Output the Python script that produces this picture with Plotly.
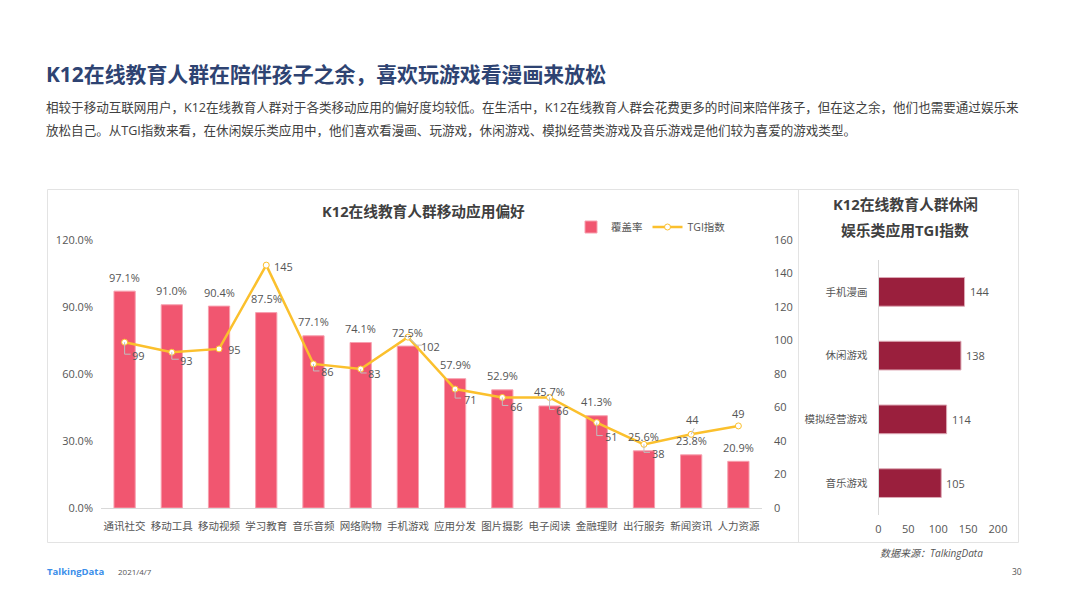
import plotly.graph_objects as go

categories = ["通讯社交","移动工具","移动视频","学习教育","音乐音频","网络购物","手机游戏","应用分发","图片摄影","电子阅读","金融理财","出行服务","新闻资讯","人力资源"]
coverage = [97.1,91.0,90.4,87.5,77.1,74.1,72.5,57.9,52.9,45.7,41.3,25.6,23.8,20.9]
tgi = [99,93,95,145,86,83,102,71,66,66,51,38,44,49]
tgi_label_dx = [14,15,15,17,14,14,23,15,14,13,15,15,1,0]
tgi_label_dy = [-13,-8,-1,-1,-8,-5,-9,-10,-9,-13,-14,-9,15,12]
leisure_apps = ["手机漫画","休闲游戏","模拟经营游戏","音乐游戏"]
leisure_tgi = [144,138,114,105]

W, H = 1066, 599
FONT = "'Open Sans','Noto Sans CJK SC',sans-serif"
DARK = "#404040"
GREY = "#555555"
def py(v): return 1 - v / H
def px(v): return v / W

fig = go.Figure()
fig.add_bar(x=categories, y=coverage, name="覆盖率", xaxis="x", yaxis="y", width=0.45,
            marker=dict(color="#F15670", line=dict(color="#F7A0AF", width=1)),
            hoverinfo="skip")
fig.add_scatter(x=categories, y=tgi, name="TGI指数", xaxis="x", yaxis="y2", mode="lines+markers",
                line=dict(color="#FBC02D", width=2.5),
                marker=dict(size=6, color="white", line=dict(color="#FBC02D", width=1)),
                hoverinfo="skip")
fig.add_bar(y=leisure_apps, x=leisure_tgi, orientation="h", xaxis="x3", yaxis="y3", showlegend=False, width=0.45,
            marker=dict(color="#9A1F3D", line=dict(color="#DDA9B5", width=1)), hoverinfo="skip")

ann = []
def text(x, y, s, size=11, color=GREY, bold=False, anchor="left", italic=False):
    ann.append(dict(xref="paper", yref="paper", x=px(x), y=py(y), text=f"<b>{s}</b>" if bold else (f"<i>{s}</i>" if italic else s),
                    showarrow=False, xanchor=anchor, yanchor="middle",
                    font=dict(size=size, color=color, family=FONT)))

for c, v in zip(categories, coverage):
    ann.append(dict(xref="x", yref="y", x=c, y=v, text=f"{v:.1f}%", showarrow=False, yshift=14,
                    yanchor="middle", xanchor="center", font=dict(size=11, color=GREY, family=FONT)))
for c, v, dx, dy in zip(categories, tgi, tgi_label_dx, tgi_label_dy):
    ann.append(dict(xref="x", yref="y2", x=c, y=v, text=str(v), showarrow=False, xshift=dx, yshift=dy,
                    yanchor="middle", xanchor="center", font=dict(size=11, color=GREY, family=FONT)))
for a, v in zip(leisure_apps, leisure_tgi):
    ann.append(dict(xref="x3", yref="y3", x=v, y=a, text=str(v), showarrow=False, xshift=3,
                    yanchor="middle", xanchor="left", font=dict(size=11, color=GREY, family=FONT)))

text(44, 74, "K12在线教育人群在陪伴孩子之余，喜欢玩游戏看漫画来放松", 20.9, "#2E4372", True)
text(44, 108, "相较于移动互联网用户，K12在线教育人群对于各类移动应用的偏好度均较低。在生活中，K12在线教育人群会花费更多的时间来陪伴孩子，但在这之余，他们也需要通过娱乐来", 12.55, DARK)
text(44, 130, "放松自己。从TGI指数来看，在休闲娱乐类应用中，他们喜欢看漫画、玩游戏，休闲游戏、模拟经营类游戏及音乐游戏是他们较为喜爱的游戏类型。", 12.55, DARK)
text(423, 211, "K12在线教育人群移动应用偏好", 14.7, DARK, True, "center")
text(905, 204, "K12在线教育人群休闲", 14.8, DARK, True, "center")
text(905, 230, "娱乐类应用TGI指数", 14.8, DARK, True, "center")
text(878, 553, "数据来源：TalkingData", 10, GREY, italic=True)
text(45, 571, "TalkingData", 9.5, "#3B8EEA", True)
text(116, 571, "2021/4/7", 8, GREY)
text(1024, 571, "30", 8.5, GREY, anchor="right")

shapes = [
    dict(type="rect", xref="paper", yref="paper", x0=px(47.5), x1=px(1018.5), y0=py(189.5), y1=py(542.5),
         line=dict(color="#E3E3E3", width=1), fillcolor="rgba(0,0,0,0)", layer="below"),
    dict(type="line", xref="paper", yref="paper", x0=px(798.5), x1=px(798.5), y0=py(189.5), y1=py(542.5),
         line=dict(color="#E3E3E3", width=1), layer="below"),
]
# leader lines, anchored to the data points, sizes in pixels
leaders = {0:"M0 0 L0 -12 L6 -12", 1:"M0 0 L0 -7 L7 -7", 4:"M0 0 L0 -7 L6 -7", 5:"M0 0 L0 -4 L6 -4",
           6:"M0 0 L9 -8 L14 -8", 7:"M0 0 L0 -9 L6 -9", 8:"M0 0 L0 -8 L6 -8", 9:"M0 0 L0 -12 L5 -12",
           10:"M0 0 L0 -13 L6 -13", 11:"M0 0 L0 -8 L6 -8", 12:"M0 0 L3 6"}
for i, p in leaders.items():
    shapes.append(dict(type="path", xref="x", yref="y2", xsizemode="pixel", ysizemode="pixel",
                       xanchor=categories[i], yanchor=tgi[i], path=p,
                       line=dict(color="#BFBFBF", width=1), layer="above"))

tf = dict(size=11, color=GREY, family=FONT)
cf = dict(size=10.5, color=GREY, family=FONT)
fig.update_layout(
    width=W, height=H, margin=dict(l=0, r=0, t=0, b=0, autoexpand=False), paper_bgcolor="white", plot_bgcolor="rgba(0,0,0,0)",
    bargap=0.55, font=dict(family=FONT), annotations=ann, shapes=shapes,
    legend=dict(orientation="h", x=px(571), y=py(227), xanchor="left", yanchor="middle",
                font=dict(size=10.5, color=GREY, family=FONT), bgcolor="rgba(0,0,0,0)"),
    xaxis=dict(domain=[px(101), px(762)], anchor="y", type="category", categoryorder="array", categoryarray=categories,
               range=[-0.5, 13.5], showline=True, linecolor="#D9D9D9", ticks="", tickfont=cf, showgrid=False, tickangle=0,
               ticklabelstandoff=8),
    yaxis=dict(domain=[py(508), py(240)], range=[0, 120], tickvals=[0,30,60,90,120], ticktext=["0.0%","30.0%","60.0%","90.0%","120.0%"],
               showgrid=False, zeroline=False, tickfont=tf, ticks="", ticklabelstandoff=7),
    yaxis2=dict(domain=[py(508), py(240)], range=[0, 160], dtick=20, overlaying="y", side="right", anchor="x",
                showgrid=False, zeroline=False, tickfont=tf, ticks="", ticklabelstandoff=11),
    xaxis3=dict(domain=[px(878.5), px(998)], anchor="y3", range=[0, 200], dtick=50, showgrid=False, zeroline=False,
                tickfont=tf, ticks="", ticklabelstandoff=6),
    yaxis3=dict(domain=[py(515), py(260)], anchor="x3", type="category", categoryorder="array", categoryarray=leisure_apps,
                autorange="reversed", showline=True, linecolor="#D9D9D9", ticks="", tickfont=cf, ticklabelstandoff=8),
)
fig.write_html("out.html", config=dict(displayModeBar=False),
               post_script="document.body.style.margin='0';document.body.style.overflow='hidden';")
